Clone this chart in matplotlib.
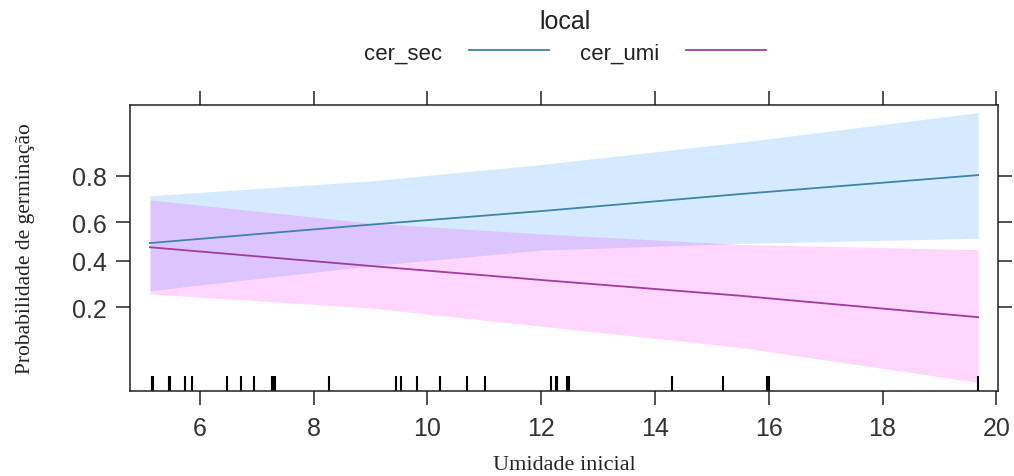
import numpy as np
import matplotlib
matplotlib.use("Agg")
import matplotlib.pyplot as plt
from matplotlib.ticker import FixedLocator, FixedFormatter, NullLocator
from matplotlib.lines import Line2D
import matplotlib.transforms as mtransforms

# fitted effect (probability scale)
umidade = [5.12, 9.0, 12.0, 15.5, 19.68]
sec_fit = [0.492, 0.588, 0.655, 0.731, 0.802]
sec_lower = [0.262, 0.375, 0.455, 0.490, 0.517]
sec_upper = [0.724, 0.782, 0.835, 0.890, 0.938]
umi_fit = [0.470, 0.374, 0.308, 0.242, 0.169]
umi_lower = [0.249, 0.198, 0.144, 0.097, 0.049]
umi_upper = [0.706, 0.596, 0.540, 0.485, 0.457]

# rug of observed Umidade inicial
rug_x = [5.15, 5.17, 5.46, 5.48, 5.74, 5.86, 6.48, 6.72, 6.95, 7.26, 7.29, 7.32,
         8.27, 9.44, 9.53, 9.81, 10.22, 10.70, 11.01, 12.18, 12.26, 12.28,
         12.46, 12.49, 14.30, 15.20, 15.97, 16.00, 19.68]

x_ticks = [6, 8, 10, 12, 14, 16, 18, 20]
y_ticks = [0.2, 0.4, 0.6, 0.8]
y_labels = ["0.2", "0.4", "0.6", "0.8"]
grupos = ["cer_sec", "cer_umi"]

blue = "#0080ff"
pink = "#ff00ff"
blue_line = "#3d84a8"
pink_line = "#a03c9c"

sans = "Liberation Sans"
serif = "Liberation Serif"

fig = plt.figure(figsize=(10.14, 4.77), dpi=100)
ax = fig.add_axes([130 / 1014, 1 - 392 / 477, 868 / 1014, 286 / 477])

ax.fill_between(umidade, sec_lower, sec_upper, color=blue, alpha=0.16, lw=0)
ax.fill_between(umidade, umi_lower, umi_upper, color=pink, alpha=0.16, lw=0)
ax.plot(umidade, sec_fit, color=blue_line, lw=1.3)
ax.plot(umidade, umi_fit, color=pink_line, lw=1.3)

ax.set_yscale("logit")
ax.set_xlim(4.77, 20.03)
ax.set_ylim(0.0412, 0.9466)

trans = mtransforms.blended_transform_factory(ax.transData, ax.transAxes)
ax.vlines(rug_x, 0, 0.053, transform=trans, color="black", lw=1.5)

ax.xaxis.set_major_locator(FixedLocator(x_ticks))
ax.yaxis.set_major_locator(FixedLocator(y_ticks))
ax.yaxis.set_major_formatter(FixedFormatter(y_labels))
ax.yaxis.set_minor_locator(NullLocator())
ax.xaxis.set_minor_locator(NullLocator())
ax.tick_params(axis="both", which="major", direction="out", length=10, width=1.1,
               labelsize=18, top=True, right=True, colors="#222222")
ax.tick_params(axis="x", pad=8)
ax.tick_params(axis="y", pad=7)
for lab in ax.get_xticklabels() + ax.get_yticklabels():
    lab.set_fontfamily(sans)
    lab.set_color("#333333")
for sp in ax.spines.values():
    sp.set_linewidth(1.1)
    sp.set_color("#222222")

ax.set_xlabel("Umidade inicial", fontfamily=serif, fontsize=16, labelpad=11, color="#222222")
ax.set_ylabel("Probabilidade de germinação", fontfamily=serif, fontsize=15.5,
              labelpad=26, color="#222222")

handles = [Line2D([], [], color=blue_line, lw=1.3), Line2D([], [], color=pink_line, lw=1.3)]
leg = fig.legend(handles, grupos, loc="upper center", bbox_to_anchor=(0.557, 0.942),
                 ncol=2, frameon=False, markerfirst=False,
                 prop={"family": sans, "size": 16}, handlelength=3.6,
                 handletextpad=1.2, columnspacing=1.4, borderpad=0.2)
for t in leg.get_texts():
    t.set_color("#222222")
fig.text(0.557, 1 - 22 / 477, "local", ha="center", va="center",
         fontfamily=sans, fontsize=18, color="#222222")

fig.savefig("out.png", dpi=100)
